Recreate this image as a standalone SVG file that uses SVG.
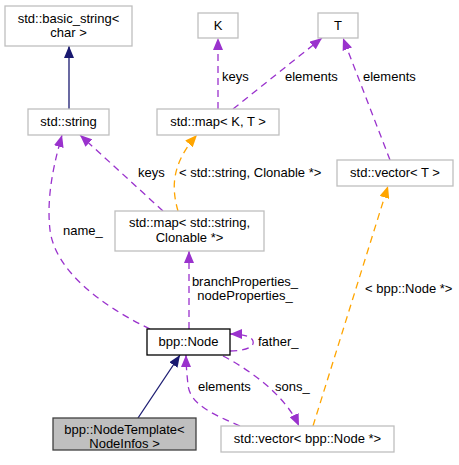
<svg xmlns="http://www.w3.org/2000/svg" width="459" height="465" viewBox="0 0 459 465">
<style>
text{font-family:"Liberation Sans",Arial,sans-serif;font-size:13px;fill:#000}
.c{text-anchor:middle}
.box{fill:#fff;stroke:#bfbfbf;stroke-width:1.3}
.p{fill:none;stroke:#9a32cd;stroke-dasharray:7,5;stroke-width:1.3}
.o{fill:none;stroke:#ffa500;stroke-dasharray:7,5;stroke-width:1.3}
.n{fill:none;stroke:#191970;stroke-width:1.3}
</style>
<defs>
<marker id="ap" markerUnits="userSpaceOnUse" markerWidth="12" markerHeight="10" refX="12" refY="5" orient="auto"><path d="M0,0 L12,5 L0,10 z" fill="#9a32cd"/></marker>
<marker id="ao" markerUnits="userSpaceOnUse" markerWidth="12" markerHeight="10" refX="12" refY="5" orient="auto"><path d="M0,0 L12,5 L0,10 z" fill="#ffa500"/></marker>
<marker id="an" markerUnits="userSpaceOnUse" markerWidth="12" markerHeight="10" refX="12" refY="5" orient="auto"><path d="M0,0 L12,5 L0,10 z" fill="#191970"/></marker>
</defs>
<g id="edges">
<path class="n" d="M69,109 L69,46" marker-end="url(#an)"/>
<path class="p" d="M218,109 L218,38" marker-end="url(#ap)"/>
<path class="p" d="M233,109 L322,38" marker-end="url(#ap)"/>
<path class="p" d="M390,160 L343,38" marker-end="url(#ap)"/>
<path class="o" d="M178,211 C172,190 170,165 197,135" marker-end="url(#ao)"/>
<path class="p" d="M163,211 L80,135" marker-end="url(#ap)"/>
<path class="p" d="M150,329 C100,305 55,270 50,230 C46,195 55,160 62,135" marker-end="url(#ap)"/>
<path class="p" d="M189,329 L189,251" marker-end="url(#ap)"/>
<path class="o" d="M313,426 L388,186" marker-end="url(#ao)"/>
<path class="p" d="M230,351 C245,351 255,347 253,341 C251,336 243,334 230,334" marker-end="url(#ap)"/>
<path class="p" d="M223,356 C250,370 285,395 299,426" marker-end="url(#ap)"/>
<path class="p" d="M240,426 C215,415 190,405 188,385 C187,375 186,365 186,355" marker-end="url(#ap)"/>
<path class="n" d="M138,418 L180,355" marker-end="url(#an)"/>
<text x="222" y="81">keys</text>
<text x="285" y="81">elements</text>
<text x="363" y="81">elements</text>
<text x="138" y="177">keys</text>
<text x="179" y="177">&lt; std::string, Clonable *&gt;</text>
<text x="63" y="235">name_</text>
<text class="c" x="245" y="286">branchProperties_</text>
<text class="c" x="245" y="300">nodeProperties_</text>
<text x="365" y="293">&lt; bpp::Node *&gt;</text>
<text x="258" y="346">father_</text>
<text x="198" y="391">elements</text>
<text x="275" y="391">sons_</text>
</g>
<g id="basic_string"><rect class="box" x="5" y="6" width="127" height="40"/><text class="c" x="68.5" y="23">std::basic_string&lt;</text><text class="c" x="68.5" y="37">char &gt;</text></g>
<g id="string"><rect class="box" x="28" y="109" width="81" height="26"/><text class="c" x="68.5" y="126">std::string</text></g>
<g id="K"><rect class="box" x="198" y="13" width="40" height="25"/><text class="c" x="218" y="30">K</text></g>
<g id="T"><rect class="box" x="318" y="13" width="40" height="25"/><text class="c" x="338" y="30">T</text></g>
<g id="mapKT"><rect class="box" x="157" y="109" width="122" height="26"/><text class="c" x="218" y="126">std::map&lt; K, T &gt;</text></g>
<g id="mapStr"><rect class="box" x="115" y="211" width="149" height="40"/><text class="c" x="189.5" y="227">std::map&lt; std::string,</text><text class="c" x="189.5" y="242">Clonable *&gt;</text></g>
<g id="vectorT"><rect class="box" x="337" y="160" width="116" height="26"/><text class="c" x="395" y="177">std::vector&lt; T &gt;</text></g>
<g id="node"><rect x="147" y="329" width="83" height="26" fill="#fff" stroke="#000" stroke-width="1.3"/><text class="c" x="188.5" y="346">bpp::Node</text></g>
<g id="nodeTemplate"><rect x="53" y="418" width="143" height="32" fill="#bfbfbf" stroke="#404040" stroke-width="1.3"/><text class="c" x="124.5" y="434">bpp::NodeTemplate&lt;</text><text class="c" x="124.5" y="448">NodeInfos &gt;</text></g>
<g id="vectorNode"><rect class="box" x="221" y="426" width="173" height="26"/><text class="c" x="307.5" y="443">std::vector&lt; bpp::Node *&gt;</text></g>
</svg>
